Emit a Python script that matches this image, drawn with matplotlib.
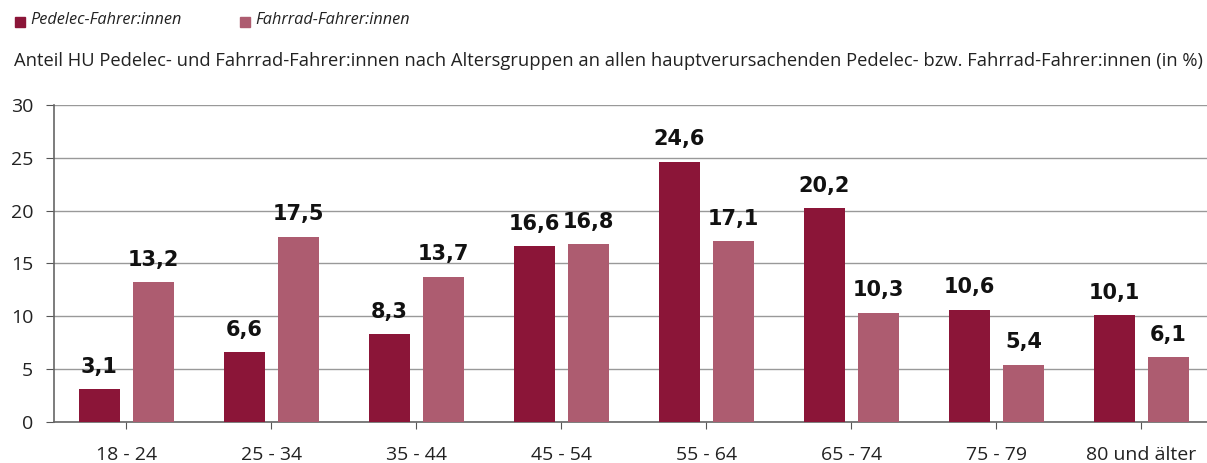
import numpy as np
import matplotlib.pyplot as plt
from matplotlib.patches import Rectangle

kategorien = ["18 - 24", "25 - 34", "35 - 44", "45 - 54", "55 - 64", "65 - 74", "75 - 79", "80 und älter"]
pedelec = [3.1, 6.6, 8.3, 16.6, 24.6, 20.2, 10.6, 10.1]
fahrrad = [13.2, 17.5, 13.7, 16.8, 17.1, 10.3, 5.4, 6.1]
serien = ["Pedelec-Fahrer:innen", "Fahrrad-Fahrer:innen"]
farben = ["#8B1538", "#AD5C70"]
titel = "Anteil HU Pedelec- und Fahrrad-Fahrer:innen nach Altersgruppen an allen hauptverursachenden Pedelec- bzw. Fahrrad-Fahrer:innen (in %)"

plt.rcParams['font.family'] = ['Open Sans', 'DejaVu Sans']

fig = plt.figure(figsize=(12.07, 4.63), dpi=100)
# achse geht rechts etwas ueber den rand hinaus (wie im original)
ax = fig.add_axes([0.0447, 0.0886, 0.961, 0.685])

x = np.arange(len(kategorien))
breite = 0.285
for werte, off, farbe in [(pedelec, -0.187, farben[0]), (fahrrad, 0.187, farben[1])]:
    bars = ax.bar(x + off, werte, breite, color=farbe, zorder=3)
    for b, w in zip(bars, werte):
        ax.text(b.get_x() + b.get_width() / 2, w + 1.2, f"{w:.1f}".replace(".", ","),
                ha="center", va="bottom", fontsize=15, fontweight="bold",
                family="DejaVu Sans", color="#111111")

ax.set_xlim(-0.5, len(kategorien) - 0.5)
ax.set_ylim(0, 30)
ax.set_yticks(range(0, 31, 5))
ax.set_xticks(x)
ax.set_xticklabels(kategorien)
ax.tick_params(axis="x", length=5, direction="out", color="#555555", pad=12,
               labelsize=14, labelcolor="#222222")
ax.tick_params(axis="y", length=6, direction="out", color="#555555", labelsize=14,
               labelcolor="#222222", pad=9)
ax.grid(axis="y", color="#999999", linewidth=1, zorder=0)
for s in ["top", "right"]:
    ax.spines[s].set_visible(False)
for s in ["left", "bottom"]:
    ax.spines[s].set_color("#666666")
    ax.spines[s].set_linewidth(1.2)

# Legende oben
for i, (name, farbe) in enumerate(zip(serien, farben)):
    x0 = 0.0125 + i * 0.1865
    fig.patches.append(Rectangle((x0, 0.942), 0.0085, 0.022, transform=fig.transFigure,
                                 color=farbe))
    fig.text(x0 + 0.0125, 0.956, name, fontsize=11.7, style="italic", va="center", color="#222222")

fig.text(0.0115, 0.868, titel, fontsize=13.2, va="center", color="#222222")

fig.savefig("out.png", dpi=100)
